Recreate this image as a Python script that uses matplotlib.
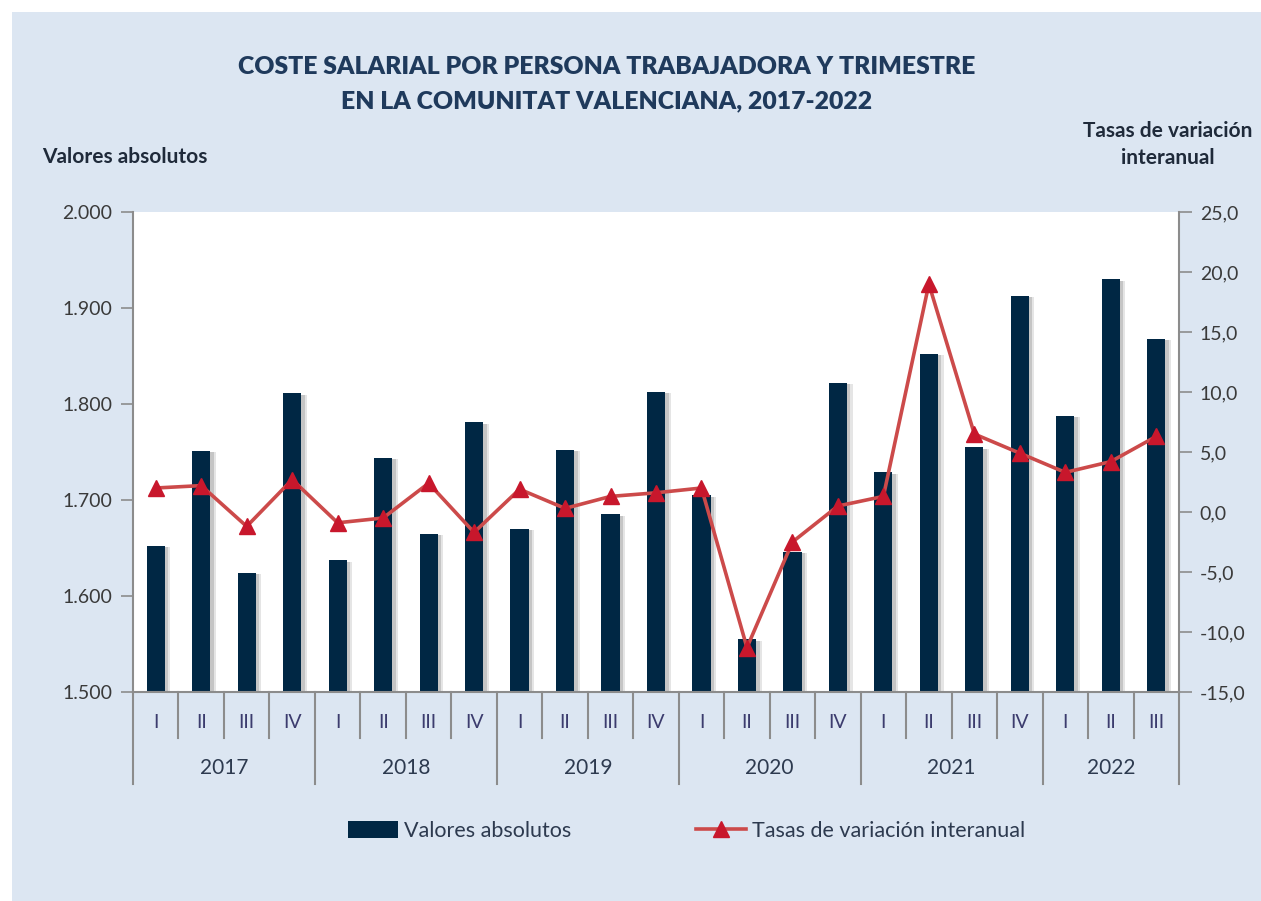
import numpy as np
import matplotlib
matplotlib.use("Agg")
import matplotlib.pyplot as plt
import matplotlib.patheffects as pe
from matplotlib.patches import Rectangle
from matplotlib.lines import Line2D
from matplotlib.transforms import blended_transform_factory

# data
years = ["2017", "2018", "2019", "2020", "2021", "2022"]
quarters_per_year = [4, 4, 4, 4, 4, 3]
quarter_names = ["I", "II", "III", "IV"]
valores = [1652, 1751, 1624, 1811,
           1637, 1744, 1665, 1781,
           1670, 1752, 1685, 1813,
           1705, 1555, 1646, 1822,
           1729, 1852, 1755, 1913,
           1788, 1930, 1868]
tasas = [2.0, 2.2, -1.2, 2.7,
         -0.9, -0.5, 2.4, -1.7,
         1.9, 0.3, 1.3, 1.6,
         2.0, -11.3, -2.5, 0.5,
         1.3, 19.0, 6.5, 4.9,
         3.3, 4.2, 6.3]

BG = "#dce6f2"
NAVY = "#002744"
RED_LINE = "#cc4a4a"
RED_MARK = "#c8172c"
GRID = "#8c8c8c"
TXT = "#3a3a3a"
TITLE = "#1f3a5c"
FONT = "Lato"

plt.rcParams["font.family"] = [FONT, "DejaVu Sans"]

fig = plt.figure(figsize=(12.61, 9.01), dpi=100)
fig.patch.set_facecolor("white")
fig.add_artist(Rectangle((12 / 1261, 0), 1, 1 - 12 / 901, transform=fig.transFigure,
                         facecolor=BG, edgecolor="none", zorder=-10))

ax = fig.add_axes([133 / 1261, (901 - 692) / 901, 1046 / 1261, 480 / 901])
ax.set_facecolor("white")
n = len(valores)
x = np.arange(n)

bars = ax.bar(x, valores, width=0.4, color=NAVY, zorder=2)
# soft drop shadow to the right of each bar
shadow = [pe.SimplePatchShadow(offset=(4, -1), shadow_rgbFace="#9a9a9a", alpha=0.25),
          pe.SimplePatchShadow(offset=(2.5, -1), shadow_rgbFace="#8a8a8a", alpha=0.35),
          pe.Normal()]
for b in bars:
    b.set_path_effects(shadow)
ax.set_ylim(1500, 2000)
ax.set_xlim(-0.5, n - 0.5)
ax.set_yticks(np.arange(1500, 2001, 100))
ax.set_yticklabels([f"{v // 1000}.{v % 1000:03d}" for v in range(1500, 2001, 100)])
ax.set_xticks([])

ax2 = ax.twinx()
ax2.plot(x, tasas, color=RED_LINE, lw=2.6, marker="^", markersize=11,
         markerfacecolor=RED_MARK, markeredgecolor=RED_MARK, zorder=3)
ax2.set_ylim(-15, 25)
ax2.set_yticks(np.arange(-15, 26, 5))
ax2.set_yticklabels([f"{v:.1f}".replace(".", ",") for v in range(-15, 26, 5)])

for a in (ax, ax2):
    for s in a.spines.values():
        s.set_visible(False)
    a.tick_params(axis="y", direction="out", length=9, width=1.2, color=GRID,
                  labelsize=14, labelcolor=TXT, pad=6)
ax.spines["left"].set_visible(True)
ax.spines["left"].set_color(GRID)
ax.spines["left"].set_linewidth(1.5)
ax2.spines["right"].set_visible(True)
ax2.spines["right"].set_color(GRID)
ax2.spines["right"].set_linewidth(1.5)
ax.spines["bottom"].set_visible(True)
ax.spines["bottom"].set_color(GRID)
ax.spines["bottom"].set_linewidth(1.5)

# two-level category axis
tr = blended_transform_factory(ax.transData, ax.transAxes)
q_depth = -46 / 480
y_depth = -92 / 480
pos = 0
bounds = [-0.5]
for yr, nq in zip(years, quarters_per_year):
    for k in range(nq):
        ax.text(pos + k, -30 / 480, quarter_names[k], transform=tr, ha="center", va="center",
                fontsize=14, color="#3c3c6e")
        if k > 0:
            ax.add_line(Line2D([pos + k - 0.5] * 2, [0, q_depth], transform=tr, color=GRID,
                               lw=1.5, clip_on=False))
    ax.text(pos + (nq - 1) / 2, -76 / 480, yr, transform=tr, ha="center", va="center",
            fontsize=15, color="#2d3a4f")
    pos += nq
    bounds.append(pos - 0.5)
for bx in bounds:
    ax.add_line(Line2D([bx, bx], [0, y_depth], transform=tr, color=GRID, lw=1.5, clip_on=False))

# titles
fig.text(607 / 1261, 1 - 67 / 901, "COSTE SALARIAL POR PERSONA TRABAJADORA Y TRIMESTRE",
         ha="center", va="center", fontsize=17.8, fontweight="heavy", color=TITLE)
fig.text(607 / 1261, 1 - 101 / 901, "EN LA COMUNITAT VALENCIANA, 2017-2022",
         ha="center", va="center", fontsize=17.8, fontweight="heavy", color=TITLE)
fig.text(42 / 1261, 1 - 157 / 901, "Valores absolutos", ha="left", va="center",
         fontsize=15, fontweight="bold", color="#1f2a3a")
fig.text(1168 / 1261, 1 - 131 / 901, "Tasas de variación", ha="center", va="center",
         fontsize=15, fontweight="bold", color="#1f2a3a")
fig.text(1168 / 1261, 1 - 158 / 901, "interanual", ha="center", va="center",
         fontsize=15, fontweight="bold", color="#1f2a3a")

# legend
h_bar = Rectangle((0, 0), 1, 1, facecolor=NAVY)
h_line = Line2D([], [], color=RED_LINE, lw=2.6, marker="^", markersize=11,
                markerfacecolor=RED_MARK, markeredgecolor=RED_MARK)
fig.legend([h_bar, h_line], ["Valores absolutos", "Tasas de variación interanual"],
           loc="center", bbox_to_anchor=(687 / 1261, 1 - 831 / 901), ncol=2, frameon=False,
           fontsize=15.5, labelcolor="#2d3a4f", handlelength=2.3, handletextpad=0.3,
           columnspacing=5.8, handleheight=0.8)

fig.savefig("out.png", dpi=100, facecolor=fig.get_facecolor())
